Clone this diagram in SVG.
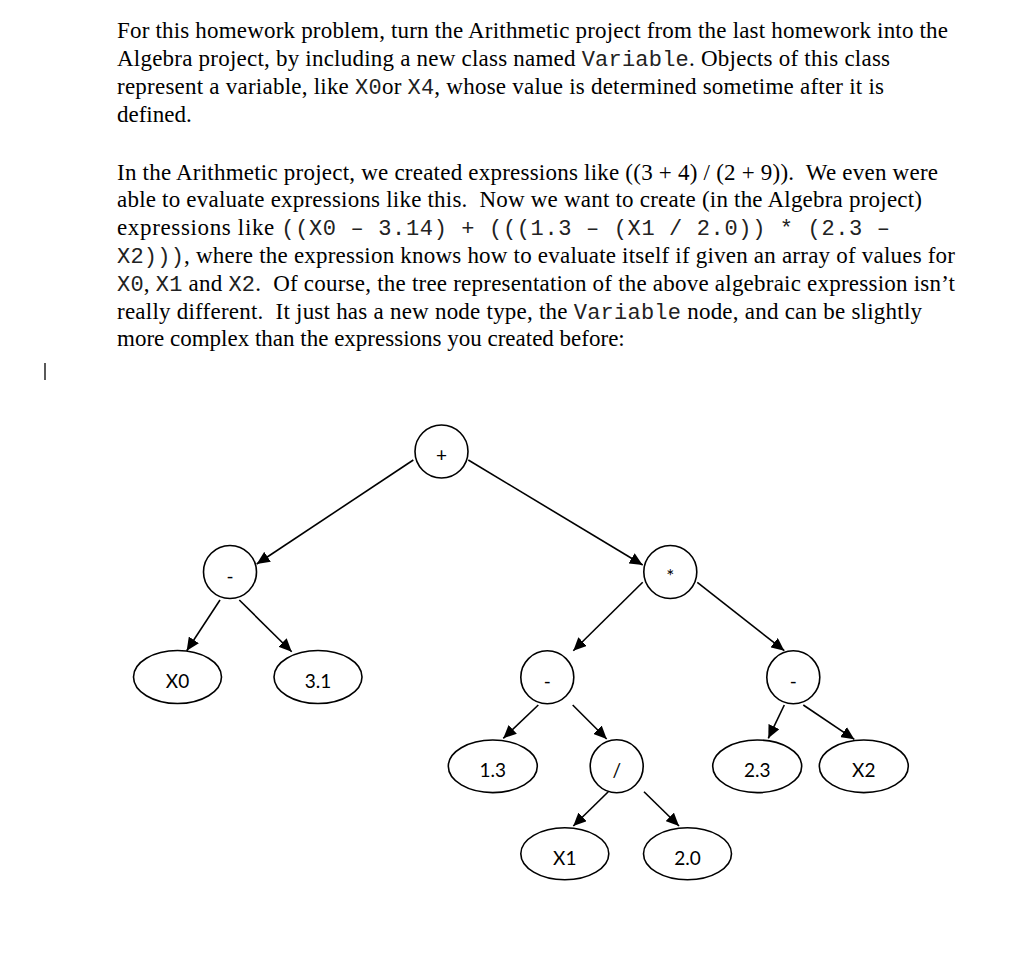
<svg xmlns="http://www.w3.org/2000/svg" width="1024" height="956" viewBox="0 0 1024 956">
<style>
.t{font-family:"Liberation Serif","Times New Roman",serif;font-size:23px;fill:#000;white-space:pre}
.m{font-family:"Liberation Mono","Courier New",monospace;font-size:22px;fill:#222;white-space:pre}
.shape{fill:#fff;stroke:#000;stroke-width:1.6}
.lbl{font-family:Lato,"Open Sans",sans-serif;font-size:19px;fill:#000;text-anchor:middle}
.edge{stroke:#000;stroke-width:1.6;fill:none;marker-end:url(#ah)}
</style>
<defs>
<marker id="ah" markerUnits="userSpaceOnUse" markerWidth="14" markerHeight="12" refX="13" refY="6" orient="auto">
<path d="M0,0 L13,6 L0,12 z" fill="#000"/>
</marker>
</defs>
<rect width="1024" height="956" fill="#fff"/>
<g id="text">
<text class="t" x="117" y="37.5" textLength="831" lengthAdjust="spacing">For this homework problem, turn the Arithmetic project from the last homework into the</text>
<text class="t" x="117" y="65.8" textLength="773" lengthAdjust="spacing">Algebra project, by including a new class named <tspan class="m">Variable</tspan>. Objects of this class</text>
<text class="t" x="117" y="94.1" textLength="767" lengthAdjust="spacing">represent a variable, like <tspan class="m">X0</tspan>or <tspan class="m">X4</tspan>, whose value is determined sometime after it is</text>
<text class="t" x="117" y="122.4">defined.</text>
<text class="t" x="117" y="179.5" textLength="821" lengthAdjust="spacing">In the Arithmetic project, we created expressions like ((3 + 4) / (2 + 9)).  We even were</text>
<text class="t" x="117" y="207.3" textLength="805" lengthAdjust="spacing">able to evaluate expressions like this.  Now we want to create (in the Algebra project)</text>
<text class="t" x="117" y="235.1" textLength="773" lengthAdjust="spacing">expressions like <tspan class="m">((X0 – 3.14) + (((1.3 – (X1 / 2.0)) * (2.3 –</tspan></text>
<text class="t" x="117" y="262.9" textLength="838" lengthAdjust="spacing"><tspan class="m">X2)))</tspan>, where the expression knows how to evaluate itself if given an array of values for</text>
<text class="t" x="117" y="290.7" textLength="838" lengthAdjust="spacing"><tspan class="m">X0</tspan>, <tspan class="m">X1</tspan> and <tspan class="m">X2</tspan>.  Of course, the tree representation of the above algebraic expression isn’t</text>
<text class="t" x="117" y="318.5" textLength="805" lengthAdjust="spacing">really different.  It just has a new node type, the <tspan class="m">Variable</tspan> node, and can be slightly</text>
<text class="t" x="117" y="346.3">more complex than the expressions you created before:</text>
</g>
<line id="cursor" x1="45" y1="363" x2="45" y2="380" stroke="#000" stroke-width="1.3"/>
<g id="connectors">
<line class="edge" x1="413.3" y1="460" x2="256.7" y2="564"/>
<line class="edge" x1="468.3" y1="460" x2="642.7" y2="565"/>
<line class="edge" x1="220" y1="600" x2="186.7" y2="650.7"/>
<line class="edge" x1="239.3" y1="600" x2="291.7" y2="651.7"/>
<line class="edge" x1="642.7" y1="582.3" x2="573.3" y2="650.7"/>
<line class="edge" x1="697.3" y1="582.3" x2="784.3" y2="650.7"/>
<line class="edge" x1="538.3" y1="705" x2="503.3" y2="738.3"/>
<line class="edge" x1="572.7" y1="705" x2="606.7" y2="739"/>
<line class="edge" x1="784.3" y1="705" x2="768.3" y2="738.3"/>
<line class="edge" x1="803.3" y1="705" x2="854.3" y2="739.3"/>
<line class="edge" x1="608.3" y1="791.7" x2="573.3" y2="826"/>
<line class="edge" x1="644" y1="791.7" x2="679" y2="826"/>
</g>
<g id="n-plus"><circle class="shape" cx="441.5" cy="451.5" r="26.5"/><text class="lbl" x="441.5" y="462">+</text></g>
<g id="n-minus-left"><circle class="shape" cx="230" cy="572" r="26.5"/><text class="lbl" x="230" y="583">-</text></g>
<g id="n-times"><circle class="shape" cx="670.3" cy="572" r="26.5"/><text class="lbl" x="670.3" y="583">*</text></g>
<g id="n-x0"><ellipse class="shape" cx="177.5" cy="677" rx="44" ry="26.5"/><text class="lbl" x="177.5" y="688">X0</text></g>
<g id="n-3-1"><ellipse class="shape" cx="318" cy="677" rx="44" ry="26.5"/><text class="lbl" x="318" y="688">3.1</text></g>
<g id="n-minus-mid"><circle class="shape" cx="547.3" cy="677.3" r="26.5"/><text class="lbl" x="547.3" y="688">-</text></g>
<g id="n-minus-right"><circle class="shape" cx="793.3" cy="677.3" r="26.5"/><text class="lbl" x="793.3" y="688">-</text></g>
<g id="n-1-3"><ellipse class="shape" cx="492.8" cy="766.3" rx="44.5" ry="26.3"/><text class="lbl" x="492.8" y="777">1.3</text></g>
<g id="n-div"><circle class="shape" cx="616.7" cy="766.3" r="26.5"/><text class="lbl" x="616.7" y="777">/</text></g>
<g id="n-2-3"><ellipse class="shape" cx="757.2" cy="766.3" rx="44.5" ry="26.3"/><text class="lbl" x="757.2" y="777">2.3</text></g>
<g id="n-x2"><ellipse class="shape" cx="863.8" cy="766.3" rx="44.5" ry="26.3"/><text class="lbl" x="863.8" y="777">X2</text></g>
<g id="n-x1"><ellipse class="shape" cx="564.8" cy="853.8" rx="44" ry="26"/><text class="lbl" x="564.8" y="864.5">X1</text></g>
<g id="n-2-0"><ellipse class="shape" cx="687.5" cy="853.8" rx="44" ry="26"/><text class="lbl" x="687.5" y="864.5">2.0</text></g>
</svg>
